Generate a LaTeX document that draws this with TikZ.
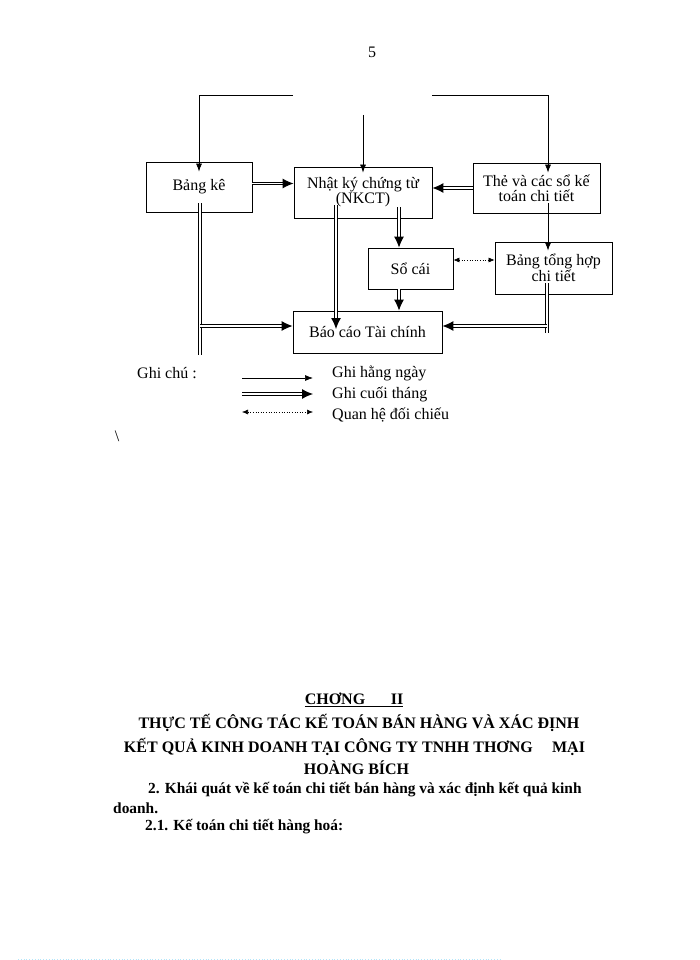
\documentclass[tikz,border=0pt]{standalone}
\usepackage{fontspec}
\setmainfont{Liberation Serif}
\usetikzlibrary{arrows.meta,positioning,calc}
\newcommand{\txtsize}{\fontsize{16}{15}\selectfont}
\newcommand{\bodysize}{\fontsize{15.4}{15}\selectfont}

\begin{document}
\begin{tikzpicture}
   [x=1pt,y=-1pt,
    box/.style={draw,line width=0.8pt,inner sep=0pt,font=\txtsize,align=center},
    txt/.style={font=\txtsize,inner sep=0pt},
    head/.style={font=\txtsize\bfseries,inner sep=0pt},
    body/.style={font=\bodysize\bfseries,inner sep=0pt,anchor=west},
    thin/.style={line width=0.7pt,-{Latex[length=8pt,width=6pt]}},
    dline/.style={double,double distance=1.3pt,line width=1pt},
    dbl/.style={dline,-{Latex[length=11pt,width=10pt]}},
    cmp/.style={line width=0.6pt,dotted,{Latex[length=6pt,width=5pt]}-{Latex[length=6pt,width=5pt]}}]

\useasboundingbox (0,0) rectangle (700,960);

\node [txt] (pg) at (372,52) {5};

\node [box,minimum width=106pt,minimum height=50pt] (bk) at (199,187) {Bảng kê};
\node [box,minimum width=138pt,minimum height=51pt] (nkct) at (363,192.5) {Nhật ký chứng từ\\(NKCT)};
\node [box,minimum width=127pt,minimum height=50pt] (the) at (536.5,188) {Thẻ và các sổ kế\\toán chi tiết};
\node [box,minimum width=85pt,minimum height=41pt] (socai) at (410.5,268.5) {Sổ cái};
\node [box,minimum width=117pt,minimum height=52pt] (bth) at (553.5,268) {Bảng tổng hợp\\chi tiết};
\node [box,minimum width=149pt,minimum height=42pt] (bctc) at (367.5,332) {Báo cáo Tài chính};

\coordinate (tl) at (293,95);
\coordinate (tr) at (432,95);
\coordinate (tm) at (363,115);
\draw [thin] (tl) -| ($(bk.north)+(0,10)$);
\draw [thin] (tm) -- ($(nkct.north)+(0,6)$);
\draw [thin] (tr) -| ($(the.north)+(11.5,10)$);
\draw [thin] ($(the.south)+(11.5,-10)$) -- ($(bth.north)+(-5.5,9)$);

\coordinate (bke) at ($(bk.east)+(0,-3.5)$);
\draw [dbl] (bke) -- (bke -| nkct.west);
\draw [dbl] (the.west) -- (the.west -| nkct.east);

\coordinate (bk1) at (200,203);
\coordinate (bk2) at (200,355);
\coordinate (lj) at (200,326);
\draw [dline] (bk1) -- (bk2);
\draw [dbl] (lj) -- (lj -| bctc.west);

\coordinate (n1) at (336,205);
\coordinate (n1e) at (336,329);
\draw [dbl] (n1) -- (n1e);
\coordinate (n2) at (399,207);
\draw [dbl] (n2) -- (n2 |- socai.north);
\draw [dbl] (n2 |- socai.south) -- (n2 |- bctc.north);

\coordinate (dq) at (0,260);
\draw [cmp] (socai.east |- dq) -- (bth.west |- dq);

\coordinate (r1) at (547,283);
\coordinate (r2) at (547,333);
\coordinate (rj) at (547,326);
\draw [dline] (r1) -- (r2);
\draw [dbl] (rj) -- (rj -| bctc.east);

\node [txt,anchor=west] (gc) at (137,373) {Ghi chú :};
\coordinate (l1) at (242,378);
\coordinate (l1e) at (313,378);
\coordinate (l2) at (242,394);
\coordinate (l2e) at (313,394);
\coordinate (l3) at (242,412);
\coordinate (l3e) at (313,412);
\draw [thin] (l1) -- (l1e);
\draw [dbl] (l2) -- (l2e);
\draw [cmp] (l3) -- (l3e);
\node [txt,anchor=west] (g1) at (332,373) {Ghi hằng ngày};
\node [txt,anchor=west] (g2) at (332,394) {Ghi cuối tháng};
\node [txt,anchor=west] (g3) at (332,415) {Quan hệ đối chiếu};
\node [txt] (bsl) at (117,436) {\textbackslash};

\node [head] (ch) at (354,700) {\underline{CHƠNG\hspace{1.6em}II}};
\node [head] (h1) at (359,723) {THỰC TẾ CÔNG TÁC KẾ TOÁN BÁN HÀNG VÀ XÁC ĐỊNH};
\node [head] (h2) at (354.5,747) {KẾT QUẢ KINH DOANH TẠI CÔNG TY TNHH THƠNG\hspace{1.2em}MẠI};
\node [head] (h3) at (356.5,768) {HOÀNG BÍCH};
\node [body] (p1) at (148,790) {2. Khái quát về kế toán chi tiết bán hàng và xác định kết quả kinh};
\node [body] (p2) at (113,808) {doanh.};
\node [body] (p3) at (145,827) {2.1. Kế toán chi tiết hàng hoá:};

\draw [cyan!30,dotted,line width=0.8pt] (18,959) -- (500,959);
\end{tikzpicture}
\end{document}
